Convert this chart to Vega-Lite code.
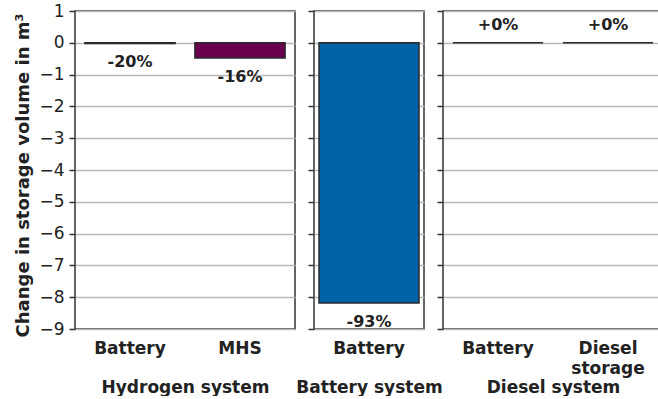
{
  "$schema": "https://vega.github.io/schema/vega-lite/v6.json",
  "autosize": {"type": "pad"},
  "padding": {"left": 14, "top": 1, "right": 0, "bottom": 0},
  "background": "white",
  "bounds": "flush",
  "spacing": 19,
  "config": {
    "font": "DejaVu Sans",
    "view": {"stroke": "#333333", "strokeWidth": 1.5},
    "axisY": {
      "values": [-9, -8, -7, -6, -5, -4, -3, -2, -1, 0, 1],
      "labelExpr": "replace(format(datum.value, 'd'), '-', '\u2212')",
      "grid": true,
      "gridColor": "#b8b8b8",
      "gridWidth": 1.5,
      "domain": false,
      "ticks": true,
      "tickColor": "#333333",
      "tickSize": 6,
      "tickWidth": 1.5,
      "labelFontSize": 17,
      "labelColor": "#222222",
      "labelPadding": 5,
      "titleFontSize": 18,
      "titleFontWeight": "bold",
      "titleColor": "#222222",
      "titlePadding": 6
    },
    "axisX": {
      "labelAngle": 0,
      "ticks": false,
      "domain": false,
      "grid": false,
      "labelFontSize": 17,
      "labelFontWeight": "bold",
      "labelColor": "#222222",
      "labelPadding": 11,
      "labelLineHeight": 20,
      "labelExpr": "datum.label == 'Diesel storage' ? ['Diesel', 'storage'] : datum.label",
      "titleFontSize": 17,
      "titleFontWeight": "bold",
      "titleColor": "#222222",
      "titleY": 58,
      "titleBaseline": "middle"
    }
  },
  "data": {
    "values": [
      {"system": "Hydrogen system", "store": "Battery", "value": -0.02, "label": "-20%"},
      {"system": "Hydrogen system", "store": "MHS", "value": -0.48, "label": "-16%"},
      {"system": "Battery system", "store": "Battery", "value": -8.18, "label": "-93%"},
      {"system": "Diesel system", "store": "Battery", "value": 0, "label": "+0%"},
      {"system": "Diesel system", "store": "Diesel storage", "value": 0, "label": "+0%"}
    ]
  },
  "hconcat": [
    {
      "width": 220,
      "height": 318,
      "transform": [{"filter": "datum.system == 'Hydrogen system'"}],
      "encoding": {
        "x": {"field": "store", "type": "nominal", "sort": ["Battery", "MHS"], "title": "Hydrogen system",
              "scale": {"paddingInner": 0.18, "paddingOuter": 0.09}},
        "y": {"field": "value", "type": "quantitative", "title": "Change in storage volume in m\u00b3",
              "axis": {"titleY": 164},
              "scale": {"domain": [-9, 1], "nice": false, "zero": false}}
      },
      "layer": [
        {"mark": {"type": "bar", "stroke": "#2b2b2b", "strokeWidth": 1.5},
         "encoding": {"color": {"field": "store", "type": "nominal", "legend": null,
           "scale": {"domain": ["Battery", "MHS", "Diesel storage"], "range": ["#0063a6", "#6b0050", "#5a5a5a"]}}}},
        {"transform": [{"filter": "datum.value < 0"}],
         "mark": {"type": "text", "fontSize": 16, "fontWeight": "bold", "color": "#222222", "baseline": "middle", "dy": 19},
         "encoding": {"text": {"field": "label"}}},
        {"transform": [{"filter": "datum.value >= 0"}],
         "mark": {"type": "text", "fontSize": 16, "fontWeight": "bold", "color": "#222222", "baseline": "middle", "dy": -18},
         "encoding": {"text": {"field": "label"}}}
      ]
    },
    {
      "width": 110,
      "height": 318,
      "transform": [{"filter": "datum.system == 'Battery system'"}],
      "encoding": {
        "x": {"field": "store", "type": "nominal", "title": "Battery system",
              "scale": {"paddingInner": 0.0909, "paddingOuter": 0.04545}},
        "y": {"field": "value", "type": "quantitative", "axis": {"labels": false, "title": null},
              "scale": {"domain": [-9, 1], "nice": false, "zero": false}}
      },
      "layer": [
        {"mark": {"type": "bar", "stroke": "#2b2b2b", "strokeWidth": 1.5},
         "encoding": {"color": {"field": "store", "type": "nominal", "legend": null,
           "scale": {"domain": ["Battery", "MHS", "Diesel storage"], "range": ["#0063a6", "#6b0050", "#5a5a5a"]}}}},
        {"transform": [{"filter": "datum.value < 0"}],
         "mark": {"type": "text", "fontSize": 16, "fontWeight": "bold", "color": "#222222", "baseline": "middle", "dy": 19},
         "encoding": {"text": {"field": "label"}}},
        {"transform": [{"filter": "datum.value >= 0"}],
         "mark": {"type": "text", "fontSize": 16, "fontWeight": "bold", "color": "#222222", "baseline": "middle", "dy": -18},
         "encoding": {"text": {"field": "label"}}}
      ]
    },
    {
      "width": 220,
      "height": 318,
      "transform": [{"filter": "datum.system == 'Diesel system'"}],
      "encoding": {
        "x": {"field": "store", "type": "nominal", "sort": ["Battery", "Diesel storage"], "title": "Diesel system",
              "scale": {"paddingInner": 0.18, "paddingOuter": 0.09}},
        "y": {"field": "value", "type": "quantitative", "axis": {"labels": false, "title": null},
              "scale": {"domain": [-9, 1], "nice": false, "zero": false}}
      },
      "layer": [
        {"mark": {"type": "bar", "stroke": "#2b2b2b", "strokeWidth": 1.5},
         "encoding": {"color": {"field": "store", "type": "nominal", "legend": null,
           "scale": {"domain": ["Battery", "MHS", "Diesel storage"], "range": ["#0063a6", "#6b0050", "#5a5a5a"]}}}},
        {"transform": [{"filter": "datum.value < 0"}],
         "mark": {"type": "text", "fontSize": 16, "fontWeight": "bold", "color": "#222222", "baseline": "middle", "dy": 19},
         "encoding": {"text": {"field": "label"}}},
        {"transform": [{"filter": "datum.value >= 0"}],
         "mark": {"type": "text", "fontSize": 16, "fontWeight": "bold", "color": "#222222", "baseline": "middle", "dy": -18},
         "encoding": {"text": {"field": "label"}}}
      ]
    }
  ]
}
